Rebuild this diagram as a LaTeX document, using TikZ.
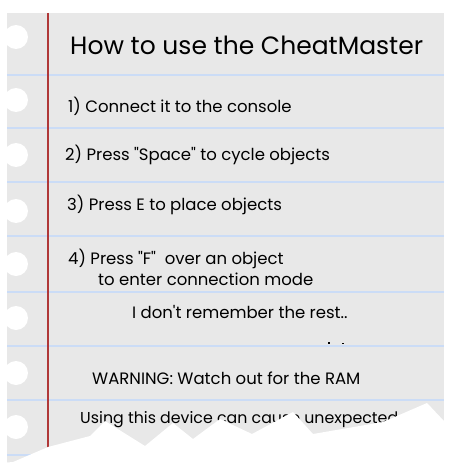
\documentclass[tikz,border=0pt]{standalone}
\usepackage{fontspec}
\setmainfont{Poppins}
\definecolor{paper}{HTML}{E8E8E8}
\definecolor{ruling}{HTML}{CBDCF6}
\definecolor{margin}{HTML}{B03838}
\begin{document}
\begin{tikzpicture}[x=1pt, y=-1pt,
  heading/.style={anchor=base west, inner sep=0pt, font=\fontsize{25}{29}\selectfont},
  note/.style={anchor=base west, inner sep=0pt, font=\fontsize{16.5}{19}\selectfont}]
  \useasboundingbox (0,0) rectangle (455,476);
  \fill[paper] (7,13) rectangle (444,470);
  \foreach \y in {75,128,182,236,292,346,400,455}
    \draw[ruling, line width=1.6pt] (7,\y) -- (444,\y);
  \draw[margin, line width=2pt] (48,13) -- (48,470);
  \foreach \y in {37,100,155,211,264,318,373,427}
    \fill[white] (16,\y) circle (12pt);
  \node[heading] (title) at (70,55) {How to use the CheatMaster};
  \node[note] (step1) at (68,113) {1) Connect it to the console};
  \node[note] (step2) at (65,160) {2) Press \textquotedbl Space\textquotedbl\ to cycle objects};
  \node[note] (step3) at (67,210) {3) Press E to place objects};
  \node[note] (step4) at (68,264) {4) Press \textquotedbl F\textquotedbl\ \ over an object};
  \node[note] (step4b) at (98,285) {to enter connection mode};
  \node[note] (rest) at (132,318) {I don\textquotesingle t remember the rest..};
  \fill (328,342) rectangle (330,344);
  \fill (342,343) rectangle (344,344);
  \node[note] (warning) at (92,384) {WARNING: Watch out for the RAM};
  \node[note, font=\fontsize{15.8}{19}\selectfont] (using) at (80,423)
    {Using this device can cause unexpected};
  % torn edge
  \fill[white] (455,476) -- (455,421) -- (444,421) -- (427,403) -- (383,422)
    -- (313,434) -- (293,412) -- (252,434) -- (220,419) -- (193,439)
    -- (173,423) -- (145,446) -- (105,421) -- (90,436) -- (48,447)
    -- (13,462) -- (0,463) -- (0,476) -- cycle;
\end{tikzpicture}
\end{document}
